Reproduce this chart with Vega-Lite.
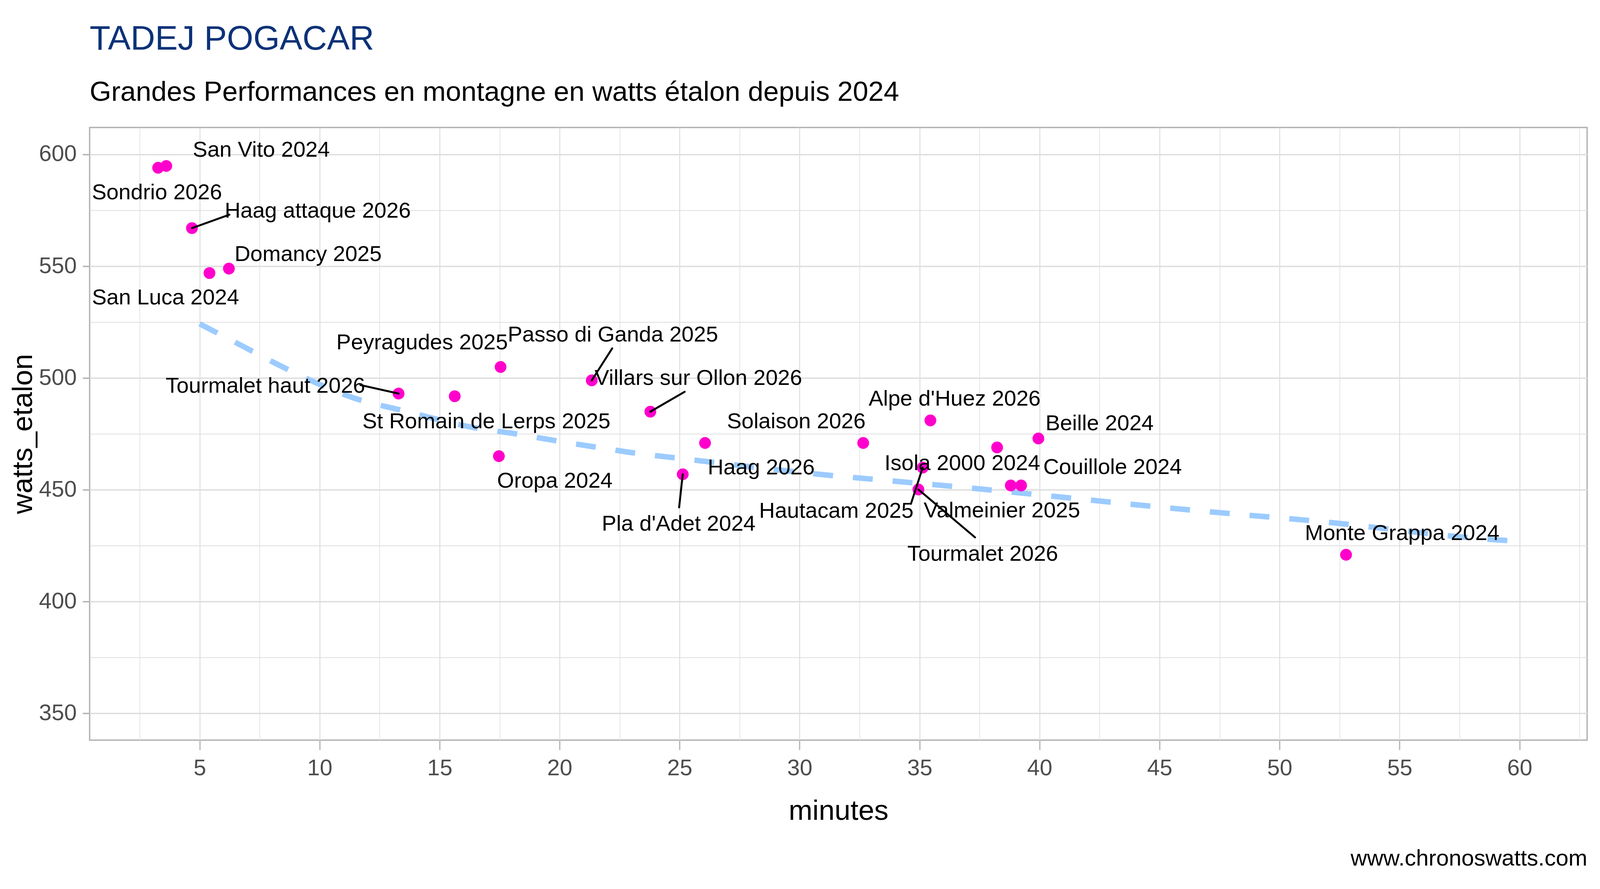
{
  "$schema": "https://vega.github.io/schema/vega-lite/v6.json",
  "width": 4096,
  "height": 2275,
  "autosize": {"type": "fit", "contains": "padding"},
  "padding": {"left": 22.5, "top": 56.3, "right": 33, "bottom": 49},
  "background": "white",
  "title": {
    "text": "TADEJ POGACAR",
    "subtitle": "Grandes Performances en montagne en watts étalon depuis 2024",
    "anchor": "start",
    "frame": "group",
    "font": "Liberation Sans",
    "subtitleFont": "Liberation Sans",
    "fontSize": 87,
    "subtitleFontSize": 71,
    "fontWeight": "normal",
    "color": "#0C3278",
    "subtitleColor": "black",
    "offset": 53.5,
    "subtitlePadding": 57
  },
  "datasets": {
    "pts": [
      {"nom": "Sondrio 2026", "minutes": 3.27, "watts": 594.0, "lx": 3.22, "ly": 582.8},
      {"nom": "San Vito 2024", "minutes": 3.61, "watts": 594.8, "lx": 7.57, "ly": 602.0},
      {"nom": "Haag attaque 2026", "minutes": 4.68, "watts": 567.0, "lx": 9.92, "ly": 574.7, "sx": 6.24, "sy": 573.0},
      {"nom": "San Luca 2024", "minutes": 5.41, "watts": 546.9, "lx": 3.58, "ly": 535.8},
      {"nom": "Domancy 2025", "minutes": 6.22, "watts": 548.9, "lx": 9.52, "ly": 555.2},
      {"nom": "Tourmalet haut 2026", "minutes": 13.29, "watts": 493.0, "lx": 7.74, "ly": 496.4, "sx": 11.70, "sy": 496.8},
      {"nom": "St Romain de Lerps 2025", "minutes": 15.63, "watts": 491.8, "lx": 16.95, "ly": 480.5},
      {"nom": "Peyragudes 2025", "minutes": 17.54, "watts": 504.9, "lx": 14.27, "ly": 515.7},
      {"nom": "Oropa 2024", "minutes": 17.47, "watts": 465.0, "lx": 19.80, "ly": 453.9},
      {"nom": "Passo di Ganda 2025", "minutes": 21.34, "watts": 498.9, "lx": 22.22, "ly": 519.3, "sx": 22.19, "sy": 513.2},
      {"nom": "Villars sur Ollon 2026", "minutes": 23.78, "watts": 484.9, "lx": 25.78, "ly": 499.9, "sx": 25.21, "sy": 493.8},
      {"nom": "Pla d'Adet 2024", "minutes": 25.13, "watts": 456.9, "lx": 24.96, "ly": 434.6, "sx": 24.98, "sy": 442.1},
      {"nom": "Haag 2026", "minutes": 26.06, "watts": 470.9, "lx": 28.40, "ly": 459.8},
      {"nom": "Solaison 2026", "minutes": 32.65, "watts": 470.9, "lx": 29.86, "ly": 480.5},
      {"nom": "Alpe d'Huez 2026", "minutes": 35.45, "watts": 481.0, "lx": 36.46, "ly": 490.6},
      {"nom": "Hautacam 2025", "minutes": 35.13, "watts": 459.9, "lx": 31.53, "ly": 440.5, "sx": 34.64, "sy": 443.7},
      {"nom": "Tourmalet 2026", "minutes": 34.95, "watts": 450.1, "lx": 37.63, "ly": 421.2, "sx": 37.31, "sy": 428.7},
      {"nom": "Isola 2000 2024", "minutes": 38.23, "watts": 468.9, "lx": 36.78, "ly": 461.8},
      {"nom": "Valmeinier 2025", "minutes": 38.80, "watts": 451.9, "lx": 38.43, "ly": 440.6},
      {"nom": "Couillole 2024", "minutes": 39.23, "watts": 451.9, "lx": 43.04, "ly": 460.0},
      {"nom": "Beille 2024", "minutes": 39.95, "watts": 472.9, "lx": 42.50, "ly": 479.6},
      {"nom": "Monte Grappa 2024", "minutes": 52.77, "watts": 420.9, "lx": 55.11, "ly": 430.5}
    ],
    "tendance": [
      {"minutes": 5, "watts": 524.2},
      {"minutes": 6.92, "watts": 513.5},
      {"minutes": 8.48, "watts": 504.8},
      {"minutes": 11.69, "watts": 490.1},
      {"minutes": 13.31, "watts": 485.8},
      {"minutes": 16.57, "watts": 477.5},
      {"minutes": 18.23, "watts": 474.9},
      {"minutes": 19.89, "watts": 471.8},
      {"minutes": 21.54, "watts": 469.0},
      {"minutes": 23.2, "watts": 466.3},
      {"minutes": 24.85, "watts": 464.2},
      {"minutes": 31.48, "watts": 456.2},
      {"minutes": 33.14, "watts": 454.6},
      {"minutes": 36.47, "watts": 451.4},
      {"minutes": 43.09, "watts": 444.3},
      {"minutes": 44.75, "watts": 442.5},
      {"minutes": 46.4, "watts": 440.8},
      {"minutes": 48.06, "watts": 439.2},
      {"minutes": 51.38, "watts": 436.1},
      {"minutes": 59.63, "watts": 427.2},
      {"minutes": 60, "watts": 427.0}
    ]
  },
  "resolve": {"axis": {"x": "independent", "y": "independent"}},
  "layer": [
    {
      "data": {"name": "pts"},
      "mark": {"type": "point", "opacity": 0},
      "encoding": {
        "x": {
          "field": "minutes", "type": "quantitative",
          "scale": {"domain": [0.417, 62.815], "nice": false, "zero": false},
          "axis": {"orient": "bottom", "values": [2.5, 7.5, 12.5, 17.5, 22.5, 27.5, 32.5, 37.5, 42.5, 47.5, 52.5, 57.5, 62.5],
                   "grid": true, "gridColor": "#DEDEDE", "gridWidth": 1.5, "labels": false, "domain": false,
                   "ticks": true, "tickSize": 0, "tickOpacity": 0,
                   "title": "www.chronoswatts.com", "titleAnchor": "end", "titleAlign": "right",
                   "titleFont": "Liberation Sans", "titleFontSize": 58, "titleFontWeight": "normal", "titleColor": "black", "titlePadding": 274}
        },
        "y": {
          "field": "watts", "type": "quantitative",
          "scale": {"domain": [338, 612], "nice": false, "zero": false},
          "axis": {"orient": "left", "values": [375, 425, 475, 525, 575],
                   "grid": true, "gridColor": "#DEDEDE", "gridWidth": 2, "labels": false, "ticks": false, "domain": false, "title": null}
        }
      }
    },
    {
      "data": {"name": "tendance"},
      "mark": {"type": "line", "color": "#9CCBFF", "strokeWidth": 14, "strokeDash": [51, 51], "interpolate": "monotone"},
      "encoding": {
        "x": {
          "field": "minutes", "type": "quantitative",
          "axis": {"orient": "bottom", "values": [5, 10, 15, 20, 25, 30, 35, 40, 45, 50, 55, 60],
                   "grid": true, "gridColor": "#DEDEDE", "gridWidth": 2.5, "domain": false,
                   "ticks": true, "tickColor": "#B3B3B3", "tickSize": 25, "tickWidth": 3,
                   "labelFont": "Liberation Sans", "labelFontSize": 58, "labelColor": "#4D4D4D", "labelPadding": 18,
                   "title": "minutes", "titleFont": "Liberation Sans", "titleFontSize": 73, "titleFontWeight": "normal", "titleColor": "black", "titlePadding": 44}
        },
        "y": {
          "field": "watts", "type": "quantitative",
          "axis": {"orient": "left", "values": [350, 400, 450, 500, 550, 600],
                   "grid": true, "gridColor": "#DEDEDE", "gridWidth": 3.5, "domain": false,
                   "ticks": true, "tickColor": "#B3B3B3", "tickSize": 18, "tickWidth": 3.5,
                   "labelFont": "Liberation Sans", "labelFontSize": 58, "labelColor": "#4D4D4D", "labelPadding": 15.5,
                   "title": "watts_etalon", "titleFont": "Liberation Sans", "titleFontSize": 73, "titleFontWeight": "normal", "titleColor": "black", "titlePadding": 3}
        }
      }
    },
    {
      "data": {"name": "pts"},
      "mark": {"type": "circle", "color": "#FF00CC", "opacity": 1, "size": 908},
      "encoding": {
        "x": {"field": "minutes", "type": "quantitative", "axis": null},
        "y": {"field": "watts", "type": "quantitative", "axis": null}
      }
    },
    {
      "data": {"name": "pts"},
      "transform": [{"filter": "datum.sx != null"}],
      "mark": {"type": "rule", "color": "black", "strokeWidth": 5, "strokeCap": "round"},
      "encoding": {
        "x": {"field": "minutes", "type": "quantitative", "axis": null},
        "y": {"field": "watts", "type": "quantitative", "axis": null},
        "x2": {"field": "sx"},
        "y2": {"field": "sy"}
      }
    },
    {
      "data": {"name": "pts"},
      "mark": {"type": "text", "font": "Liberation Sans", "fontSize": 56, "color": "black", "align": "center", "baseline": "middle"},
      "encoding": {
        "x": {"field": "lx", "type": "quantitative", "axis": null},
        "y": {"field": "ly", "type": "quantitative", "axis": null},
        "text": {"field": "nom"}
      }
    }
  ],
  "config": {
    "view": {"stroke": "#B3B3B3", "strokeWidth": 3.5}
  }
}
